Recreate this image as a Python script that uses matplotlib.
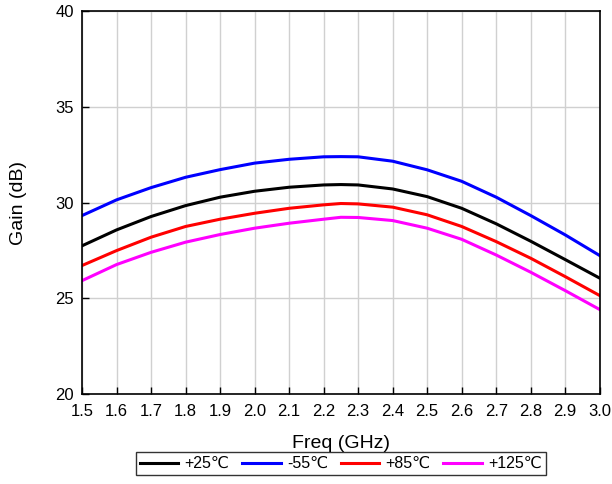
import numpy as np
import matplotlib
matplotlib.use('Agg')
import matplotlib.pyplot as plt

plt.rcParams['font.family'] = ['Liberation Sans', 'DejaVu Sans']

# values
freq = [1.5, 1.6, 1.7, 1.8, 1.9, 2.0, 2.1, 2.2, 2.25, 2.3, 2.4, 2.5, 2.6, 2.7, 2.8, 2.9, 3.0]
gain_25 = [27.74, 28.57, 29.27, 29.84, 30.28, 30.59, 30.80, 30.92, 30.94, 30.92, 30.71, 30.31, 29.70, 28.89, 27.98, 27.02, 26.05]
gain_m55 = [29.32, 30.14, 30.78, 31.32, 31.72, 32.06, 32.26, 32.39, 32.40, 32.39, 32.16, 31.71, 31.11, 30.28, 29.32, 28.31, 27.23]
gain_85 = [26.71, 27.49, 28.19, 28.75, 29.13, 29.44, 29.70, 29.88, 29.95, 29.93, 29.76, 29.36, 28.75, 27.96, 27.09, 26.13, 25.14]
gain_125 = [25.92, 26.76, 27.40, 27.93, 28.33, 28.66, 28.92, 29.13, 29.23, 29.22, 29.06, 28.66, 28.08, 27.26, 26.36, 25.40, 24.41]

series = [
    ('+25\u2103', gain_25, 'black'),
    ('-55\u2103', gain_m55, 'blue'),
    ('+85\u2103', gain_85, 'red'),
    ('+125\u2103', gain_125, 'magenta'),
]

fig = plt.figure(figsize=(6.12, 4.84), dpi=100, facecolor='white')
ax = fig.add_axes([0.134, 0.186, 0.846, 0.791])

for label, vals, color in series:
    ax.plot(freq, vals, color=color, lw=2.2, label=label, solid_joinstyle='round')

ticks = np.arange(1.5, 3.01, 0.1)
ax.set_xlim(1.5, 3.0)
ax.set_ylim(20, 40)
ax.set_xticks(ticks)
ax.set_xticklabels([f'{v:.1f}' for v in ticks])
ax.set_yticks([20, 25, 30, 35, 40])
ax.grid(True, color='#d0d0d0', lw=1)
ax.set_axisbelow(True)
ax.tick_params(direction='in', length=5, width=1, labelsize=12, pad=7)
ax.tick_params(axis='y', pad=6)
for s in ax.spines.values():
    s.set_linewidth(1.2)

ax.set_xlabel('Freq (GHz)', fontsize=14, labelpad=12)
ax.set_ylabel('Gain (dB)', fontsize=14, labelpad=20)

leg = ax.legend(loc='upper center', bbox_to_anchor=(0.5, -0.152), ncol=4,
                fontsize=11.5, frameon=True, fancybox=False, edgecolor='black',
                handlelength=2.4, columnspacing=0.8, handletextpad=0.4,
                borderpad=0.25, borderaxespad=0)
leg.get_frame().set_linewidth(1.0)

fig.savefig('out.png', dpi=100, facecolor='white')
